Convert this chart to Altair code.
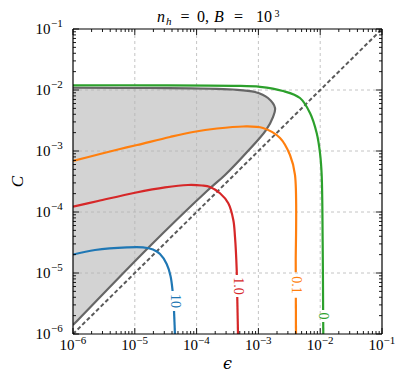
import altair as alt
import numpy as np
import pandas as pd

W, H = 309, 305

# ---- data (log10 epsilon, log10 C) ----
bound_lx = [-6.0, -4.754, -3.411, -3.055, -2.845, -2.731, -2.764, -2.877, -3.184, -3.540, -3.832, -4.786, -5.968, -6.0]
bound_ly = [-1.963, -1.967, -1.992, -2.033, -2.131, -2.295, -2.443, -2.656, -3.016, -3.393, -3.656, -4.590, -5.820, -5.852]

green_lx = [-6.0, -4.754, -3.411, -2.974, -2.602, -2.327, -2.165, -2.057, -2.003, -1.976, -1.960, -1.950]
green_ly = [-1.923, -1.923, -1.931, -1.948, -2.016, -2.131, -2.377, -2.705, -3.033, -3.393, -4.492, -6.0]

orange_lx = [-6.0, -5.563, -5.239, -4.964, -4.430, -4.058, -3.670, -3.249, -2.926, -2.650, -2.489, -2.408, -2.396, -2.392]
orange_ly = [-3.164, -3.049, -2.967, -2.902, -2.770, -2.689, -2.631, -2.598, -2.623, -2.787, -3.066, -3.393, -4.820, -6.0]

red_lx = [-6.0, -5.595, -4.997, -4.511, -4.139, -3.913, -3.783, -3.621, -3.487, -3.406, -3.379, -3.351, -3.330]
red_ly = [-3.913, -3.820, -3.684, -3.595, -3.557, -3.566, -3.590, -3.693, -3.857, -4.131, -4.405, -4.951, -6.0]

blue_lx = [-6.0, -5.644, -5.126, -4.867, -4.706, -4.592, -4.484, -4.422, -4.390, -4.366, -4.350]
blue_ly = [-4.697, -4.623, -4.579, -4.579, -4.615, -4.689, -4.852, -5.049, -5.279, -5.607, -6.0]

curve_names = ["0", "0.1", "1.0", "10"]
curve_colors = ["#2ca02c", "#ff7f0e", "#d62728", "#1f77b4"]
curve_lx = [green_lx, orange_lx, red_lx, blue_lx]
curve_ly = [green_ly, orange_ly, red_ly, blue_ly]
label_lx = [-1.955, -2.392, -3.335, -4.350]
label_ly = [-5.705, -5.197, -5.213, -5.459]
label_gap = [0.10, 0.21, 0.18, 0.165]

major = [1e-6, 1e-5, 1e-4, 1e-3, 1e-2, 1e-1]
major_exp = ["\u22126", "\u22125", "\u22124", "\u22123", "\u22122", "\u22121"]
minor = [k * 10.0 ** d for d in range(-6, -1) for k in range(2, 10)]
grid_vals = [1e-5, 1e-4, 1e-3, 1e-2]

# ---- build tables ----
def split_curve(lx, ly, top, bot):
    lx = np.array(lx); ly = np.array(ly)
    i = int(np.argmax(ly < top))
    t = (top - ly[i - 1]) / (ly[i] - ly[i - 1])
    xa = lx[i - 1] + t * (lx[i] - lx[i - 1])
    j = int(np.argmax(ly < bot))
    t2 = (bot - ly[j - 1]) / (ly[j] - ly[j - 1])
    xb = lx[j - 1] + t2 * (lx[j] - lx[j - 1])
    a = list(zip(lx[:i], ly[:i])) + [(xa, top)]
    b = [(xb, bot)] + list(zip(lx[j:], ly[j:]))
    return a, b

rows = []
for name, lx, ly, ly0, g in zip(curve_names, curve_lx, curve_ly, label_ly, label_gap):
    segs = split_curve(lx, ly, ly0 + g, ly0 - g)
    for s, seg in enumerate(segs):
        for k, (px, py) in enumerate(seg):
            rows.append({"x": 10 ** px, "y": 10 ** py, "curve": name, "key": f"{name}_{s}", "i": k})
curves = pd.DataFrame(rows)

bound = pd.DataFrame({"x": 10 ** np.array(bound_lx), "y": 10 ** np.array(bound_ly),
                      "x0": 1e-6, "i": range(len(bound_lx))})
diag = pd.DataFrame({"x": [1e-6, 1e-1], "y": [1e-6, 1e-1]})
labels = pd.DataFrame({"x": 10 ** np.array(label_lx), "y": 10 ** np.array(label_ly),
                       "t": curve_names, "curve": curve_names})
majdf = pd.DataFrame({"v": major, "e": major_exp})
mindf = pd.DataFrame({"v": minor})
griddf = pd.DataFrame({"v": grid_vals})

xs = alt.Scale(type="log", domain=[1e-6, 1e-1], nice=False)
ys = alt.Scale(type="log", domain=[1e-6, 1e-1], nice=False)
X = lambda f: alt.X(f, scale=xs, axis=None)
Y = lambda f: alt.Y(f, scale=ys, axis=None)
cscale = alt.Scale(domain=curve_names, range=curve_colors)
SERIF = "Liberation Serif"

area = alt.Chart(bound).mark_area(orient="horizontal", color="#d3d3d3", interpolate="catmull-rom").encode(
    y=Y("y:Q"), x=X("x:Q"), x2="x0:Q")

gridx = alt.Chart(griddf).mark_rule(color="#b5b5b5", strokeWidth=0.8, strokeDash=[3, 3]).encode(
    x=X("v:Q"), y=alt.value(0), y2=alt.value(H))
gridy = alt.Chart(griddf).mark_rule(color="#b5b5b5", strokeWidth=0.8, strokeDash=[3, 3]).encode(
    y=Y("v:Q"), x=alt.value(0), x2=alt.value(W))

bline = alt.Chart(bound).mark_line(color="#666666", strokeWidth=2.2, interpolate="catmull-rom", clip=True).encode(
    x=X("x:Q"), y=Y("y:Q"), order="i:Q")

dline = alt.Chart(diag).mark_line(color="#5a5a5a", strokeWidth=2, strokeDash=[4, 2.5], clip=True).encode(
    x=X("x:Q"), y=Y("y:Q"))

clines = alt.Chart(curves).mark_line(strokeWidth=2.2, interpolate="catmull-rom", clip=True).encode(
    x=X("x:Q"), y=Y("y:Q"), color=alt.Color("curve:N", scale=cscale, legend=None),
    detail="key:N", order="i:Q")

clabels = alt.Chart(labels).mark_text(angle=90, font=SERIF, fontSize=14, align="center", baseline="middle").encode(
    x=X("x:Q"), y=Y("y:Q"), text="t:N", color=alt.Color("curve:N", scale=cscale, legend=None))

def ticks(df, L):
    b = alt.Chart(df).mark_rule(color="black", strokeWidth=0.9)
    return [
        b.encode(x=X("v:Q"), y=alt.value(H), y2=alt.value(H - L)),
        b.encode(x=X("v:Q"), y=alt.value(0), y2=alt.value(L)),
        b.encode(y=Y("v:Q"), x=alt.value(0), x2=alt.value(L)),
        b.encode(y=Y("v:Q"), x=alt.value(W), x2=alt.value(W - L)),
    ]

one = pd.DataFrame({"a": [0]})
frame = [
    alt.Chart(one).mark_rule(color="black", strokeWidth=1.2).encode(x=alt.value(0), x2=alt.value(W), y=alt.value(0)),
    alt.Chart(one).mark_rule(color="black", strokeWidth=1.2).encode(x=alt.value(0), x2=alt.value(W), y=alt.value(H)),
    alt.Chart(one).mark_rule(color="black", strokeWidth=1.2).encode(y=alt.value(0), y2=alt.value(H), x=alt.value(0)),
    alt.Chart(one).mark_rule(color="black", strokeWidth=1.2).encode(y=alt.value(0), y2=alt.value(H), x=alt.value(W)),
]

xl10 = alt.Chart(majdf).mark_text(font=SERIF, fontSize=15, align="right", baseline="alphabetic", dx=1.5).encode(
    x=X("v:Q"), y=alt.value(H + 16), text=alt.value("10"))
xlexp = alt.Chart(majdf).mark_text(font=SERIF, fontSize=11, align="left", baseline="alphabetic", dx=1.5).encode(
    x=X("v:Q"), y=alt.value(H + 10), text="e:N")
yl10 = alt.Chart(majdf).mark_text(font=SERIF, fontSize=15, align="right", baseline="alphabetic", dy=5).encode(
    y=Y("v:Q"), x=alt.value(-22.5), text=alt.value("10"))
ylexp = alt.Chart(majdf).mark_text(font=SERIF, fontSize=11, align="left", baseline="alphabetic", dy=-2).encode(
    y=Y("v:Q"), x=alt.value(-22), text="e:N")

def txt(s, x, y, size, italic=False, angle=0, align="left", baseline="alphabetic", font=SERIF):
    kw = dict(font=font, fontSize=size, align=align, baseline=baseline)
    if italic:
        kw["fontStyle"] = "italic"
    if angle:
        kw["angle"] = angle
    return alt.Chart(one).mark_text(**kw).encode(x=alt.value(x), y=alt.value(y), text=alt.value(s))

TB = -7  # title baseline (plot coords)
titles = [
    txt("\u03f5", W / 2, H + 35, 16, italic=True, align="center", baseline="alphabetic", font="DejaVu Serif"),
    txt("C", -55, H / 2, 17, italic=True, angle=270, align="center", baseline="middle"),
    txt("n", 84, TB, 16, italic=True),
    txt("h", 93, TB + 3, 11, italic=True),
    txt("=", 112, TB, 16, align="center"),
    txt("0,", 124, TB, 16),
    txt("B", 141, TB, 16, italic=True),
    txt("=", 165.5, TB, 16, align="center"),
    txt("10", 183, TB, 16),
    txt("3", 201.5, TB - 5.5, 10),
]

layers = [area, gridx, gridy, bline, dline, clines, clabels] + ticks(majdf, 6) + ticks(mindf, 3) + frame + [xl10, xlexp, yl10, ylexp] + titles

chart = alt.layer(*layers).properties(
    width=W, height=H,
    autosize=alt.AutoSizeParams(type="none"),
    padding={"left": 65, "top": 21, "right": 17, "bottom": 39},
).configure_view(stroke=None)

chart.save("out.html", embed_options={"renderer": "svg", "actions": False})
